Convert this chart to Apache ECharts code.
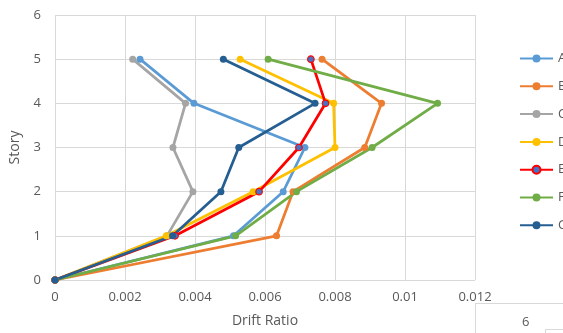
<!DOCTYPE html>
<html>
<head>
<meta charset="utf-8">
<script src="https://cdn.jsdelivr.net/npm/echarts@6/dist/echarts.min.js"></script>
<style>
html,body{margin:0;padding:0;background:#fff;}
#c{width:563px;height:333px;}
</style>
</head>
<body>
<div id="c"></div>
<script>
const stories = [0, 1, 2, 3, 4, 5];
const seriesNames = ['A', 'B', 'C', 'D', 'E', 'F', 'G'];
const driftA = [0, 0.00510, 0.00652, 0.00714, 0.00397, 0.00243];
const driftB = [0, 0.00633, 0.00680, 0.00885, 0.00933, 0.00763];
const driftC = [0, 0.00320, 0.00394, 0.00337, 0.00373, 0.00222];
const driftD = [0, 0.00318, 0.00566, 0.00800, 0.00796, 0.00529];
const driftE = [0, 0.00343, 0.00583, 0.00697, 0.00773, 0.00731];
const driftF = [0, 0.00516, 0.00690, 0.00906, 0.01093, 0.00609];
const driftG = [0, 0.00336, 0.00474, 0.00525, 0.00743, 0.00481];
const xTickLabels = ['0', '0.002', '0.004', '0.006', '0.008', '0.01', '0.012'];
const yTickLabels = ['0', '1', '2', '3', '4', '5', '6'];

const allDrift = [driftA, driftB, driftC, driftD, driftE, driftF, driftG];
const lineColors = ['#5B9BD5', '#ED7D31', '#A5A5A5', '#FFC000', '#FF0000', '#70AD47', '#255E91'];
const markerColors = ['#5B9BD5', '#ED7D31', '#A5A5A5', '#FFC000', '#4472C4', '#70AD47', '#255E91'];

const FONT = '"Open Sans", "Noto Sans", sans-serif';

const series = seriesNames.map((name, i) => ({
  name: name,
  type: 'line',
  data: allDrift[i].map((d, k) => [d, stories[k]]),
  symbol: 'circle',
  symbolSize: i === 4 ? 6.5 : 7,
  lineStyle: { color: lineColors[i], width: 2.75 },
  itemStyle: {
    color: markerColors[i],
    borderColor: lineColors[i],
    borderWidth: i === 4 ? 1.2 : 0
  },
  emphasis: { disabled: true },
  animation: false
}));

const chart = echarts.init(document.getElementById('c'), null, { renderer: 'canvas' });
chart.setOption({
  backgroundColor: '#ffffff',
  animation: false,
  grid: { left: 55, right: 88, top: 15, bottom: 52 },
  legend: {
    orient: 'vertical',
    left: 519,
    top: 52,
    padding: 0,
    itemWidth: 33,
    itemHeight: 10,
    itemGap: 14.8,
    textStyle: { color: '#595959', fontSize: 13, fontFamily: FONT, overflow: 'none' },
    data: seriesNames
  },
  xAxis: {
    type: 'value',
    min: 0,
    max: 0.012,
    interval: 0.002,
    name: 'Drift Ratio',
    nameLocation: 'middle',
    nameGap: 34,
    nameTextStyle: { color: '#595959', fontSize: 14, fontFamily: FONT },
    axisLine: { show: false },
    axisTick: { show: false },
    axisLabel: {
      color: '#595959', fontSize: 13, fontFamily: FONT, margin: 11,
      formatter: (v) => xTickLabels[Math.round(v / 0.002)]
    },
    splitLine: { show: true, lineStyle: { color: '#D9D9D9', width: 1 } }
  },
  yAxis: {
    type: 'value',
    min: 0,
    max: 6,
    interval: 1,
    name: 'Story',
    nameLocation: 'middle',
    nameRotate: 90,
    nameGap: 33,
    nameTextStyle: { color: '#595959', fontSize: 14, fontFamily: FONT },
    axisLine: { show: false },
    axisTick: { show: false },
    axisLabel: {
      color: '#595959', fontSize: 13, fontFamily: FONT, margin: 14,
      formatter: (v) => yTickLabels[Math.round(v)]
    },
    splitLine: { show: true, lineStyle: { color: '#D9D9D9', width: 1 } }
  },
  graphic: [
    { type: 'line', shape: { x1: 475, y1: 303.5, x2: 563, y2: 303.5 }, style: { stroke: '#D9D9D9', lineWidth: 1 } },
    { type: 'line', shape: { x1: 475.5, y1: 303, x2: 475.5, y2: 333 }, style: { stroke: '#D9D9D9', lineWidth: 1 } },
    { type: 'text', left: 522, top: 316, style: { text: '6', fill: '#595959', font: '13px "Open Sans", sans-serif' } },
    { type: 'line', shape: { x1: 545, y1: 329.5, x2: 563, y2: 329.5 }, style: { stroke: '#D9D9D9', lineWidth: 1 } },
    { type: 'line', shape: { x1: 545.5, y1: 329, x2: 545.5, y2: 333 }, style: { stroke: '#D9D9D9', lineWidth: 1 } }
  ],
  series: series
});
</script>
</body>
</html>
